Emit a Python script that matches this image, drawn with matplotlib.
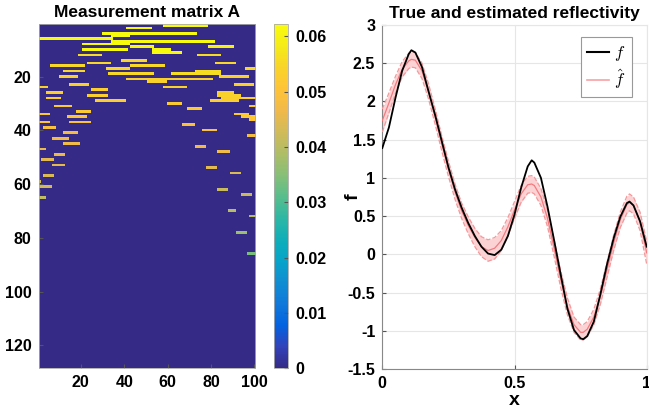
import numpy as np
import matplotlib
matplotlib.use('Agg')
import matplotlib.pyplot as plt
from matplotlib.colors import LinearSegmentedColormap
from matplotlib.lines import Line2D

plt.rcParams['font.family'] = ['Liberation Sans', 'DejaVu Sans']
plt.rcParams['font.weight'] = 'bold'
plt.rcParams['mathtext.fontset'] = 'cm'

# measurement matrix: one nonzero run per entry (row, first col, last col, value)
n_rows, n_cols = 128, 100
seg_row = [1, 2, 4, 6, 5, 7, 8, 9, 9, 10, 10, 11, 12, 12, 14, 15, 15, 16, 16, 17,
           17, 18, 18, 19, 19, 20, 20, 21, 22, 23, 23, 24, 24, 25, 26, 26, 27, 27, 28, 28,
           29, 29, 30, 31, 31, 32, 33, 34, 34, 35, 35, 36, 37, 37, 38, 39, 40, 41, 42, 43,
           45, 46, 47, 48, 49, 51, 53, 54, 56, 57, 59, 61, 62, 64, 65, 70, 72, 78, 86]
seg_c0 = [58, 41, 30, 1, 34, 34, 21, 43, 79, 21, 53, 53, 19, 74, 39, 23, 82, 6, 43, 32,
          96, 12, 73, 33, 62, 10, 84, 41, 51, 15, 91, 1, 58, 25, 4, 83, 23, 83, 4, 85,
          27, 80, 60, 8, 98, 69, 18, 1, 91, 14, 94, 98, 1, 15, 67, 3, 76, 12, 97, 7,
          12, 73, 1, 83, 8, 2, 7, 78, 89, 3, 1, 1, 83, 94, 1, 88, 98, 92, 97]
seg_c1 = [78, 52, 73, 34, 42, 81, 42, 53, 90, 41, 61, 66, 29, 84, 50, 33, 91, 21, 58, 42,
          100, 21, 84, 53, 84, 18, 97, 80, 59, 23, 99, 4, 68, 32, 11, 90, 32, 93, 10, 100,
          40, 92, 66, 15, 100, 75, 24, 5, 97, 22, 100, 100, 5, 24, 72, 8, 82, 18, 100, 14,
          19, 77, 3, 88, 12, 7, 12, 82, 93, 7, 1, 6, 87, 98, 3, 91, 100, 96, 100]
seg_val = [.062, .062, .062, .062, .062, .062, .062, .062, .060, .062, .062, .062, .056, .056,
           .055, .055, .055, .055, .055, .055, .055, .055, .056, .055, .056, .054, .054, .054,
           .054, .054, .054, .054, .054, .053, .053, .054, .053, .054, .053, .053, .053, .053,
           .052, .052, .052, .052, .052, .052, .052, .051, .052, .051, .051, .050, .050, .049,
           .050, .048, .048, .048, .047, .047, .046, .047, .046, .045, .045, .045, .044, .044,
           .043, .043, .042, .042, .041, .040, .040, .037, .034]

# true and estimated reflectivity
x = [0.0, 0.025, 0.05, 0.075, 0.1, 0.11, 0.125, 0.15, 0.175, 0.2, 0.225, 0.25, 0.275,
     0.3, 0.325, 0.35, 0.375, 0.4, 0.425, 0.45, 0.475, 0.5, 0.525, 0.55, 0.565, 0.575,
     0.6, 0.625, 0.65, 0.675, 0.7, 0.725, 0.75, 0.76, 0.775, 0.8, 0.825, 0.85, 0.875,
     0.9, 0.925, 0.935, 0.95, 0.975, 1.0]
f_true = [1.39, 1.66, 2.05, 2.40, 2.62, 2.67, 2.64, 2.45, 2.13, 1.82, 1.48, 1.14, 0.85,
          0.61, 0.41, 0.24, 0.10, 0.01, -0.01, 0.06, 0.24, 0.52, 0.87, 1.15, 1.23, 1.20,
          1.00, 0.62, 0.18, -0.27, -0.71, -0.99, -1.10, -1.11, -1.07, -0.88, -0.52, -0.13,
          0.21, 0.49, 0.67, 0.69, 0.64, 0.43, 0.10]
f_hat = [1.75, 1.98, 2.22, 2.42, 2.53, 2.55, 2.54, 2.40, 2.13, 1.80, 1.45, 1.12, 0.82,
         0.57, 0.38, 0.22, 0.10, 0.05, 0.08, 0.18, 0.36, 0.58, 0.79, 0.91, 0.92, 0.90,
         0.75, 0.47, 0.08, -0.33, -0.68, -0.92, -1.02, -1.02, -0.98, -0.82, -0.55, -0.20,
         0.15, 0.45, 0.65, 0.68, 0.64, 0.43, 0.02]
f_hat_sd = [0.15, 0.13, 0.11, 0.10, 0.10, 0.10, 0.10, 0.10, 0.10, 0.10, 0.10, 0.10, 0.10,
            0.10, 0.11, 0.12, 0.13, 0.14, 0.14, 0.13, 0.12, 0.11, 0.11, 0.11, 0.11, 0.11,
            0.11, 0.11, 0.11, 0.11, 0.11, 0.10, 0.10, 0.10, 0.10, 0.10, 0.10, 0.10, 0.10,
            0.10, 0.11, 0.11, 0.11, 0.12, 0.15]

# parula-like colormap
parula = LinearSegmentedColormap.from_list('parula', [
    (0.2081, 0.1663, 0.5292), (0.1959, 0.2645, 0.7279), (0.0117, 0.3875, 0.8820),
    (0.0629, 0.4737, 0.8554), (0.0641, 0.5570, 0.8240), (0.0231, 0.6418, 0.7913),
    (0.0590, 0.6838, 0.7254), (0.1801, 0.7177, 0.6424), (0.3482, 0.7424, 0.5473),
    (0.5300, 0.7491, 0.4661), (0.6834, 0.7435, 0.4044), (0.8185, 0.7327, 0.3498),
    (0.9450, 0.7261, 0.2886), (0.9990, 0.7653, 0.2164), (0.9789, 0.8271, 0.1633),
    (0.9598, 0.9218, 0.0948), (0.9763, 0.9831, 0.0538)])

A = np.zeros((n_rows, n_cols))
for r, c0, c1, v in zip(seg_row, seg_c0, seg_c1, seg_val):
    A[r - 1, c0 - 1:c1] = v

W, H = 649, 409
fig = plt.figure(figsize=(W / 100, H / 100), dpi=100)

ax1 = fig.add_axes([38.6 / W, 1 - 368.3 / H, 216.7 / W, 344 / H])
im = ax1.imshow(A, cmap=parula, vmin=0, vmax=0.0622, aspect='auto',
                interpolation='nearest', extent=[0.5, n_cols + 0.5, n_rows + 0.5, 0.5])
ax1.set_xticks([20, 40, 60, 80, 100])
ax1.set_yticks([20, 40, 60, 80, 100, 120])
ax1.tick_params(direction='in', length=3, labelsize=11.5, color='#555555', pad=5)
for s in ax1.spines.values():
    s.set_color('#aaaaaa')
    s.set_linewidth(0.6)
ax1.set_title('Measurement matrix A', fontsize=12.5, fontweight='bold', pad=5)

cax = fig.add_axes([274 / W, 1 - 368.3 / H, 14 / W, 344 / H])
cb = fig.colorbar(im, cax=cax)
cb.set_ticks([0, 0.01, 0.02, 0.03, 0.04, 0.05, 0.06])
cb.set_ticklabels(['0', '0.01', '0.02', '0.03', '0.04', '0.05', '0.06'])
cax.tick_params(direction='in', length=3, labelsize=11.5, color='#555555', pad=5)
cb.outline.set_edgecolor('#aaaaaa')
cb.outline.set_linewidth(0.6)

ax2 = fig.add_axes([382.3 / W, 1 - 369 / H, 264.4 / W, 344 / H])
lo = np.array(f_hat) - np.array(f_hat_sd)
hi = np.array(f_hat) + np.array(f_hat_sd)
ax2.fill_between(x, lo, hi, color='#fcd3d5', lw=0, zorder=2)
ax2.plot(x, lo, '--', color='#f4999b', lw=0.9, zorder=3)
ax2.plot(x, hi, '--', color='#f4999b', lw=0.9, zorder=3)
ax2.plot(x, f_hat, color='#f47a7e', lw=0.9, zorder=4)
ax2.plot(x, f_true, color='black', lw=1.3, zorder=5)
ax2.set_xlim(0, 1)
ax2.set_ylim(-1.5, 3)
ax2.set_xticks([0, 0.5, 1])
ax2.set_xticklabels(['0', '0.5', '1'])
ax2.set_yticks(np.arange(-1.5, 3.01, 0.5))
ax2.set_yticklabels(['-1.5', '-1', '-0.5', '0', '0.5', '1', '1.5', '2', '2.5', '3'])
ax2.grid(True, color='#e6e6e6', lw=0.8, zorder=0)
ax2.set_axisbelow(True)
ax2.tick_params(direction='in', length=3, labelsize=11.5, color='#555555', pad=5)
for side in ['top', 'right']:
    ax2.spines[side].set_color('#e6e6e6')
for side in ['left', 'bottom']:
    ax2.spines[side].set_color('#888888')
for s in ax2.spines.values():
    s.set_linewidth(0.8)
ax2.set_xlabel('x', fontsize=14, fontweight='bold')
ax2.xaxis.set_label_coords(0.5, -0.068)
ax2.set_ylabel('f', fontsize=14, fontweight='bold')
ax2.yaxis.set_label_coords(-0.078, 0.5)
ax2.set_title('True and estimated reflectivity', fontsize=12.5, fontweight='bold', pad=5)

handles = [Line2D([], [], color='black', lw=1.5),
           Line2D([], [], color='#f7a1a4', lw=1.2)]
leg = ax2.legend(handles, ['$f$', r'$\hat{f}$'], loc='upper right',
                 bbox_to_anchor=(0.944, 0.965), borderaxespad=0, fontsize=12,
                 fancybox=False, framealpha=1, edgecolor='#999999',
                 handlelength=1.3, handletextpad=0.3, labelspacing=0.25,
                 borderpad=0.4)
leg.get_frame().set_linewidth(0.8)

fig.savefig('out.png', dpi=100)
